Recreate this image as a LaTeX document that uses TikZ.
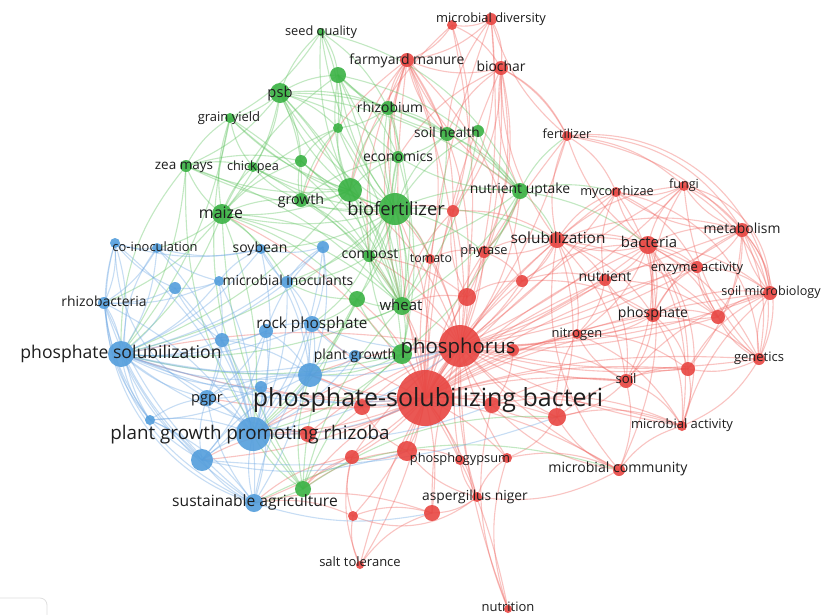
\documentclass[tikz,border=0pt]{standalone}
\usepackage{fontspec}
\setmainfont{Open Sans}
\pgfdeclarelayer{bg}
\pgfsetlayers{bg,main}
\definecolor{vred}{RGB}{232,70,66}
\definecolor{vgreen}{RGB}{58,178,68}
\definecolor{vblue}{RGB}{84,158,220}
\definecolor{ered}{RGB}{240,100,95}
\definecolor{egreen}{RGB}{95,195,95}
\definecolor{eblue}{RGB}{110,168,228}
\definecolor{labc}{RGB}{30,30,30}
\tikzset{
  rnode/.style={circle,inner sep=0pt,draw=none,fill=vred,fill opacity=0.9},
  gnode/.style={circle,inner sep=0pt,draw=none,fill=vgreen,fill opacity=0.9},
  bnode/.style={circle,inner sep=0pt,draw=none,fill=vblue,fill opacity=0.9},
  redge/.style={draw=ered,line width=1.1pt,opacity=0.38},
  gedge/.style={draw=egreen,line width=1.1pt,opacity=0.38},
  bedge/.style={draw=eblue,line width=1.1pt,opacity=0.38},
  lab/.style={text=labc,inner sep=0pt,anchor=base}
}
\begin{document}
\begin{tikzpicture}[x=1pt,y=-1pt]
\useasboundingbox (0,0) rectangle (830,614);
\clip (0,0) rectangle (830,614);
% green nodes
\foreach \n/\x/\y/\d in {sq/321/32/8, g1/338/75/16, psb/280/93/20, gy/230/118/10, zm/186/166/12, cp/253/167/10, g2/301/161/12, g3/338/128/10, rhb/388/108/14, eco/398/157/12, sh/447/134/14, sh2/478/131/12, g4/350/190/24, bio/395/209/32, gro/301/200/14, mai/222/214/20, com/369/256/12, nu/520/191/16, g5/357/299/16, wh/402/306/18, g6/402/354/20, g7/303/489/16}
  \node[gnode,minimum size=\d pt] (\n) at (\x,\y) {};
% blue nodes
\foreach \n/\x/\y/\d in {ci1/115/243/10, ci/157/248/10, soy/261/249/10, b1/323/247/12, mi1/219/281/10, mi/287/282/12, b2/175/288/12, rb/104/303/12, rp1/266/331/14, rp/312/324/16, b3/222/340/14, ps/121/354/26, pg/355/356/12, b4/310/375/24, b5/261/387/12, pgpr/207/398/16, b6/150/420/10, pgr/253/434/34, b7/202/460/22, sa/254/503/18}
  \node[bnode,minimum size=\d pt] (\n) at (\x,\y) {};
% red nodes
\foreach \n/\x/\y/\d in {md1/452/25/10, md/491/19/12, fm/407/60/14, bc/501/68/14, fe/567/136/10, r1/453/211/12, my/616/192/10, fu/684/186/10, me/742/230/14, so/557/240/16, ba/648/245/18, tom/430/259/10, phy/484/252/12, ea/697/267/12, nt/605/280/12, r2/522/281/12, r3/467/297/18, smb/770/293/14, pho/653/315/14, r4/718/317/14, ni/577/334/10, P/460/346/42, r5/513/350/12, ge/759/359/12, r6/688/369/14, soil/626/381/14, psbac/425/398/56, r7/362/407/16, r8/492/405/16, r9/557/417/18, r10/308/434/16, mact/682/426/10, r11/352/457/14, r12/407/451/20, pgy1/460/460/10, pgy2/507/458/10, mc/619/470/12, an/477/497/10, r13/432/513/16, r14/353/516/10, st/360/565/8, nut/508/609/8}
  \node[rnode,minimum size=\d pt] (\n) at (\x,\y) {};
\begin{pgfonlayer}{bg}
\fill[white] (0,0) rectangle (830,614);
% red edges
\foreach \a/\b in {psbac/P, psbac/so, psbac/ba, psbac/nt, psbac/pho, psbac/ni, psbac/soil, psbac/mact, psbac/mc, psbac/an, psbac/pgy1, psbac/pgy2, psbac/r8, psbac/r9, psbac/r7, psbac/r10, psbac/r11, psbac/r12, psbac/r13, psbac/r14, psbac/st, psbac/nut, psbac/fe, psbac/bc, psbac/fm, psbac/md, psbac/me, psbac/fu, psbac/my, psbac/ea, psbac/smb, psbac/ge, psbac/r4, psbac/r6, psbac/r3, psbac/r2, psbac/r5, psbac/phy, psbac/tom, psbac/r1, psbac/pgr, psbac/ps, psbac/b4, psbac/pgpr, psbac/rp, psbac/sa, psbac/b7, psbac/b5}
  \draw[redge] (\a.center) to[bend left=10] (\b.center);
\foreach \a/\b in {P/so, P/ba, P/nt, P/pho, P/ni, P/soil, P/r5, P/r6, P/ge, P/r4, P/smb, P/ea, P/me, P/fu, P/my, P/fe, P/bc, P/fm, P/md, P/mact, P/mc, P/r9, P/r8, P/an, P/r12, P/pgy1, P/r3, P/r2, P/phy, P/tom, P/r1, P/r7, P/r11, P/r13, P/st, P/nut, P/pgr, P/ps, P/b4, P/md1, P/pgy2, P/r10}
  \draw[redge] (\a.center) to[bend right=10] (\b.center);
\foreach \a/\b in {ba/me, ba/fu, ba/my, ba/ea, ba/nt, ba/smb, ba/pho, ba/r4, ba/ge, ba/r6, ba/soil, ba/so, ba/fe, ba/mact, ba/mc, ba/ni, so/nt, so/my, so/fe, so/pho, so/ni, so/r2, so/phy, so/bc, so/soil, so/fu, so/ea, so/me, so/r9, pho/ea, pho/smb, pho/r4, pho/ge, pho/r6, pho/soil, pho/ni, pho/nt, pho/mact, pho/me, pho/fu, me/fu, me/ea, me/smb, me/ge, me/r4, me/my, me/r6, ge/smb, ge/r4, ge/r6, ge/mact, ge/ea, ge/fu, soil/mact, soil/mc, soil/r9, soil/ni, soil/r6, soil/smb, mc/r9, mc/mact, mc/r8, mc/an, md/md1, md/bc, md/fm, md1/fm, md1/bc, bc/fe, bc/r1, bc/fm, bc/phy, bc/r3, fm/r1, fm/tom, fm/r3, fm/r2, fe/my, fe/fu, fe/me, r9/mact, r9/pgy2, r9/ni, r9/r8, an/r13, an/pgy1, an/pgy2, an/r12, nut/pgy2, nut/r8, st/r14, st/r11, st/r13, r12/r11, r12/r7, r12/pgy1, r7/r10, r14/r11, r14/r13, r6/mact, r6/smb, r4/smb, r4/ea, ea/smb, nt/ni, nt/my, fu/my, fu/smb, r5/r8, r5/soil, r3/r2, r3/r1, nt/ea, nt/r4, nt/soil, my/ea, my/pho, so/ba, so/r4, ni/r6, ni/mact, r2/nt, r2/pho, r2/ba, r8/soil, r8/mact, r9/r6, pgy2/mc, phy/so, phy/r2, tom/phy, r1/so, md/r1, md1/r1}
  \draw[redge] (\a.center) to[bend left=18] (\b.center);
\foreach \a/\b in {fm/bio, fm/rhb, fm/eco, fm/sh, fm/g4, fm/nu, bc/nu, bc/sh, md/sh, r1/bio, tom/bio, phy/nu, r3/wh, P/wh, P/g6, P/bio, P/g4, P/nu, psbac/bio, psbac/wh, psbac/mai, psbac/g7, psbac/g5, psbac/com, r10/pgr, r10/b7, r11/sa, r14/sa, r7/pgr, r13/sa, fe/bc, md/fe, smb/mact, me/smb, fm/com, fm/wh, fm/gro, bc/eco, md1/g4, r1/wh, r3/com, P/com, psbac/g6, r12/g7, r11/g7, r7/b4}
  \draw[redge] (\a.center) to[bend right=16] (\b.center);
\draw[redge] (me.center) to[bend left=35] (ge.center);
\draw[redge] (fu.center) to[bend left=40] (smb.center);
\draw[redge] (fe.center) to[bend left=30] (me.center);
\draw[redge] (ba.center) to[bend left=30] (mact.center);
\draw[redge] (fu.center) to[bend left=45] (ge.center);
\draw[redge] (fe.center) to[bend left=45] (smb.center);
\draw[redge] (my.center) to[bend left=40] (ge.center);
\draw[redge] (so.center) to[bend right=25] (mc.center);
\draw[redge] (r14.center) to[bend right=30] (an.center);
% green edges
\foreach \a/\b in {bio/psb, bio/g1, bio/rhb, bio/eco, bio/sh, bio/sh2, bio/g4, bio/gro, bio/mai, bio/com, bio/nu, bio/wh, bio/g5, bio/g6, bio/cp, bio/zm, bio/gy, bio/g2, bio/g3, bio/sq, bio/soy, bio/mi, bio/tom, bio/phy, bio/so, g4/psb, g4/g1, g4/gro, g4/mai, g4/cp, g4/zm, g4/gy, g4/g2, g4/g3, g4/rhb, g4/eco, g4/com, g4/wh, g4/sq, psb/sq, psb/g1, psb/gy, psb/zm, psb/cp, psb/g2, psb/g3, psb/rhb, psb/mai, psb/gro, psb/eco, psb/sh, sq/g1, sq/rhb, sq/g3, sq/gy, mai/gy, mai/zm, mai/cp, mai/gro, mai/g2, mai/g3, mai/soy, mai/mi, mai/com, mai/wh, mai/g5, mai/ci, mai/rb, mai/ps, mai/g1, gro/cp, gro/g2, gro/g3, gro/eco, gro/com, gro/wh, rhb/g1, rhb/eco, rhb/sh, rhb/nu, rhb/com, rhb/g3, sh/sh2, sh/nu, sh/eco, sh/g1, nu/sh2, nu/eco, nu/wh, nu/com, nu/so, nu/my, nu/phy, nu/g6, nu/ba, nu/fe, wh/com, wh/g5, wh/g6, wh/eco, g7/pgr, g7/wh, g7/mai, g7/g6, g7/g5, g6/g5, g6/com, g6/pg, zm/gy, zm/cp, zm/g2, cp/gy, g1/g3, g1/eco, g2/g3, wh/rp, g5/rp, g6/ps, g6/pgr, wh/ps, g4/ps, bio/ps, bio/pgr, g5/pgr, com/rp, mai/pgr, zm/ps, gy/ps, g1/wh, g1/com, rhb/wh, eco/com, eco/g6, sh/wh, sh2/wh, psb/wh, psb/com, gy/wh, cp/wh, g2/wh, g3/wh, g4/g6, zm/wh, g7/b4, g6/b4, g5/mi, com/mi}
  \draw[gedge] (\a.center) to[bend left=14] (\b.center);
\draw[gedge] (g7.center) to[bend left=8] (sa.center);
\draw[gedge] (sa.center) to[bend left=22] (mc.center);
\draw[gedge] (g7.center) to[bend left=18] (r9.center);
\draw[gedge] (zm.center) to[bend right=20] (ps.center);
\draw[gedge] (sq.center) to[bend left=25] (nu.center);
\draw[gedge] (psb.center) to[bend left=15] (nu.center);
\draw[gedge] (gy.center) to[bend right=25] (g7.center);
\draw[gedge] (zm.center) to[bend right=22] (g7.center);
\draw[gedge] (g1.center) to[bend left=20] (nu.center);
% blue edges
\foreach \a/\b in {pgr/ps, pgr/pgpr, pgr/b4, pgr/b5, pgr/b6, pgr/b7, pgr/sa, pgr/rb, pgr/ci, pgr/ci1, pgr/soy, pgr/mi, pgr/mi1, pgr/b2, pgr/rp, pgr/rp1, pgr/b3, pgr/pg, pgr/b1, ps/rb, ps/ci1, ps/ci, ps/b2, ps/mi1, ps/b3, ps/pgpr, ps/b6, ps/b7, ps/sa, ps/b4, ps/b5, ps/rp1, ps/rp, ps/mi, ps/soy, ps/b1, ps/pg, b4/pg, b4/rp, b4/rp1, b4/b5, b4/pgpr, b4/b7, b4/sa, b4/mi, b4/b1, b4/b3, b4/soy, pgpr/b3, pgpr/b5, pgpr/b6, pgpr/b7, pgpr/sa, pgpr/rp1, pgpr/mi1, b7/sa, b7/b6, b7/b5, rb/ci1, rb/ci, rb/b2, rb/b6, rb/b7, rb/sa, ci1/ci, ci1/b2, ci1/soy, soy/mi, soy/b1, soy/mi1, rp/rp1, rp/mi, rp/pg, rp/b1, sa/b6, sa/b5, sa/b3, b1/mi, b3/rp1, b2/mi1, pgr/psbac, pgr/P, ps/psbac, ps/P, b4/psbac, b4/P, rp/P, pg/P, ps/r10, pgr/r8, sa/r13, ci/soy, ci/mi1, rb/mi1, b2/b3, b6/b5, b7/rp1, sa/rp, b1/rp1}
  \draw[bedge] (\a.center) to[bend right=14] (\b.center);
\draw[bedge] (ci1.center) to[bend right=40] (b7.center);
\draw[bedge] (ci1.center) to[bend right=45] (sa.center);
\draw[bedge] (rb.center) to[bend right=30] (sa.center);
\draw[bedge] (ci.center) to[bend right=35] (b6.center);
\draw[bedge] (b7.center) to[bend right=12] (r9.center);
\draw[bedge] (ps.center) to[bend right=10] (r8.center);
\draw[bedge] (ci1.center) to[bend right=30] (pgpr.center);
\draw[bedge] (b7.center) to[bend right=15] (r12.center);
\end{pgfonlayer}
% labels
\foreach \n/\x/\y/\sz/\txt in {sql/321/32/12.8/seed quality, fml/407/60/14/farmyard manure, mdl/491/19/12.9/microbial diversity, bcl/501/67/13.9/biochar, psbl/280/93/14.7/psb, rhbl/390/108/13.9/rhizobium, gyl/229/118/13/grain yield, shl/447/133/13.7/soil health, fel/567/135/12.6/fertilizer, ecol/398/157/14/economics, zml/184/165/13.5/zea mays, cpl/253/167/12.7/chickpea, grol/301/200/14.2/growth, biol/396/210/18.3/biofertilizer, mail/221/214/15.9/maize, nul/520/189/13.9/nutrient uptake, myl/617/192/12.7/mycorrhizae, ful/684/185/12.6/fungi, mel/742/229/13.9/metabolism, sol/558/239/15.4/solubilization, bal/649/243/14.9/bacteria, phyl/484/251/12.8/phytase, toml/431/259/12.4/tomato, eal/697/268/12.9/enzyme activity, ntl/605/277/14/nutrient, smbl/771/292/12.6/soil microbiology, phol/653/313/14/phosphate, nil/577/334/12.9/nitrogen, gel/759/358/13/genetics, soill/626/380/13.2/soil, Pl/458/347/20.4/phosphorus, psbacl/428/399/25/phosphate-solubilizing bacteri, mactl/682/425/13/microbial activity, mcl/618/468/14.1/microbial community, pgyl/460/459/12.8/phosphogypsum, anl/475/496/13.8/aspergillus niger, stl/360/563/13/salt tolerance, nutl/508/608/13/nutrition, sal/255/502/15.6/sustainable agriculture, pgrl/250/434/18.8/plant growth promoting rhizoba, pgprl/207/398/14.6/pgpr, psl/121/353/17.6/phosphate solubilization, pgl/355/355/13.9/plant growth, rpl/312/324/15.3/rock phosphate, whl/401/306/15/wheat, coml/370/254/14/compost, mil/288/281/13.9/microbial inoculants, soyl/260/248/14/soybean, cil/155/248/12.9/co-inoculation, rbl/104/302/13.9/rhizobacteria}
  \node[lab,font=\fontsize{\sz}{\sz}\selectfont] (\n) at (\x,{\y+0.3*\sz}) {\txt};
% UI widget corner
\draw[gray!25,line width=0.8pt,rounded corners=7pt] (-20,598) rectangle (47,640);
\end{tikzpicture}
\end{document}
